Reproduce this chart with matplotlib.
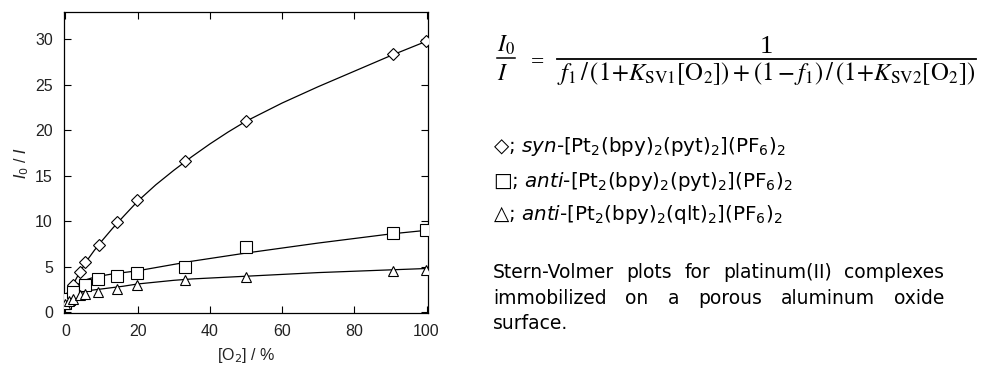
import matplotlib
matplotlib.use('Agg')
import matplotlib.pyplot as plt
from matplotlib.lines import Line2D

plt.rcParams['font.family'] = ['DejaVu Sans']

# measured points, I0/I vs [O2] %
o2_syn = [0, 0.7, 2, 3.9, 5.5, 9.2, 14.3, 19.8, 33.2, 50, 90.8, 99.8]
ratio_syn = [1.1, 1.7, 3.0, 4.4, 5.5, 7.4, 9.9, 12.3, 16.6, 21.0, 28.4, 29.8]
o2_anti_pyt = [0, 1, 2, 5.5, 9, 14.3, 19.8, 33.2, 50, 90.8, 99.8]
ratio_anti_pyt = [1.0, 1.5, 2.2, 3.0, 3.6, 4.0, 4.3, 5.0, 7.2, 8.75, 9.0]
o2_anti_qlt = [0, 1, 2, 4, 5.5, 9, 14.3, 19.8, 33.2, 50, 90.8, 99.8]
ratio_anti_qlt = [0.95, 1.25, 1.5, 1.85, 2.0, 2.2, 2.6, 3.0, 3.5, 3.9, 4.5, 4.6]

# fitted curves
fit_x = [0, 1, 2, 3, 4, 6, 8, 10, 13, 16, 20, 25, 30, 35, 40, 45, 50, 60, 70, 80, 90, 100]
fit_syn = [1.0, 2.0, 2.9, 3.7, 4.4, 5.7, 6.8, 7.8, 9.2, 10.5, 12.2, 14.0, 15.6, 17.1, 18.5, 19.8, 21.0, 23.0, 24.8, 26.5, 28.2, 29.8]
fit_anti_pyt = [1.0, 1.9, 2.5, 2.9, 3.2, 3.6, 3.85, 4.0, 4.2, 4.35, 4.55, 4.9, 5.25, 5.6, 5.9, 6.2, 6.5, 7.05, 7.6, 8.1, 8.6, 9.0]
fit_anti_qlt = [1.0, 1.5, 1.8, 2.0, 2.15, 2.35, 2.45, 2.55, 2.7, 2.85, 3.1, 3.3, 3.5, 3.65, 3.75, 3.85, 3.95, 4.15, 4.35, 4.5, 4.65, 4.8]

legend_labels = [
    u'\u25C7; $\\mathit{syn}$-[Pt$_2$(bpy)$_2$(pyt)$_2$](PF$_6$)$_2$',
    u'\u25A1; $\\mathit{anti}$-[Pt$_2$(bpy)$_2$(pyt)$_2$](PF$_6$)$_2$',
    u'\u25B3; $\\mathit{anti}$-[Pt$_2$(bpy)$_2$(qlt)$_2$](PF$_6$)$_2$',
]
caption_lines = [
    'Stern-Volmer plots for platinum(II) complexes',
    'immobilized on a porous aluminum oxide',
    'surface.',
]

W, H = 988, 367
fig = plt.figure(figsize=(W / 100, H / 100), dpi=100)
ax = fig.add_axes([0.0648, 0.147, 0.3684, 0.820])


def fx(px):
    return px / W


def fy(py):
    return 1 - py / H


mk = dict(linestyle='none', markerfacecolor='white', markeredgecolor='black',
          markeredgewidth=0.8, zorder=3)
ax.plot(fit_x, fit_syn, color='black', lw=0.9)
ax.plot(fit_x, fit_anti_pyt, color='black', lw=0.9)
ax.plot(fit_x, fit_anti_qlt, color='black', lw=0.9)
ax.plot(o2_syn, ratio_syn, marker='D', markersize=6.5, **mk)
ax.plot(o2_anti_pyt, ratio_anti_pyt, marker='s', markersize=8, **mk)
ax.plot(o2_anti_qlt, ratio_anti_qlt, marker='^', markersize=6.5, **mk)

ax.set_xlim(-0.4, 100.4)
ax.set_ylim(-0.1, 33)
ax.set_xticks([0, 20, 40, 60, 80, 100])
ax.set_yticks([0, 5, 10, 15, 20, 25, 30])
ax.tick_params(direction='in', top=True, right=True, length=5, width=0.8,
               labelsize=11.5, labelcolor='#222222')
ax.tick_params(axis='x', pad=8)
ax.tick_params(axis='y', pad=8)
for lab in ax.get_xticklabels() + ax.get_yticklabels():
    lab.set_fontfamily('Liberation Sans')
for s in ax.spines.values():
    s.set_linewidth(0.9)
ax.set_xlabel('[O$_2$] / %', fontsize=11.5, family='Liberation Sans', color='#222222', labelpad=5)
ax.set_ylabel('$I_0$ / $I$', fontsize=11.5, family='Liberation Sans', color='#222222', labelpad=3)

fig.canvas.draw()
renderer = fig.canvas.get_renderer()

# equation, laid out by hand
denom = (r'$f_1\,/\,(1\!+\!K_{\mathrm{SV1}}[\mathrm{O}_2])+(1-f_1)\,/\,'
         r'(1\!+\!K_{\mathrm{SV2}}[\mathrm{O}_2])$')
eq_kw = dict(math_fontfamily='stix', family='Liberation Serif')
t = fig.text(fx(557), fy(80), denom, fontsize=16, va='baseline', ha='left', **eq_kw)
w = t.get_window_extent(renderer).width
t.set_fontsize(16 * 418 / w)
fig.text(fx(766), fy(53), '1', fontsize=19, va='baseline', ha='center', family='Liberation Serif')
fig.add_artist(Line2D([fx(557), fx(976)], [fy(59), fy(59)], color='black', lw=1.3))
fig.text(fx(497), fy(52), r'$I_0$', fontsize=17, va='baseline', ha='left', **eq_kw)
fig.text(fx(497), fy(80), r'$I$', fontsize=17, va='baseline', ha='left', **eq_kw)
fig.add_artist(Line2D([fx(497), fx(515)], [fy(58), fy(58)], color='black', lw=1.1))
fig.text(fx(537), fy(63), '=', fontsize=17, va='center', ha='center', family='Liberation Serif')

# legend-like lines
for i, lab in enumerate(legend_labels):
    fig.text(fx(493), fy(147 + 34 * i), lab, fontsize=14.3, va='center', ha='left')

# justified caption
x0, x1 = fx(493), fx(944)
for i, line in enumerate(caption_lines):
    y = fy(278 + 25.5 * i)
    words = line.split()
    texts = [fig.text(x0, y, wd, fontsize=13.5, va='baseline', ha='left') for wd in words]
    if i == len(caption_lines) - 1:
        continue
    widths = [tx.get_window_extent(renderer).width / W for tx in texts]
    gap = (x1 - x0 - sum(widths)) / (len(words) - 1)
    pos = x0
    for tx, wd in zip(texts, widths):
        tx.set_x(pos)
        pos += wd + gap

fig.savefig('out.png', dpi=100)
